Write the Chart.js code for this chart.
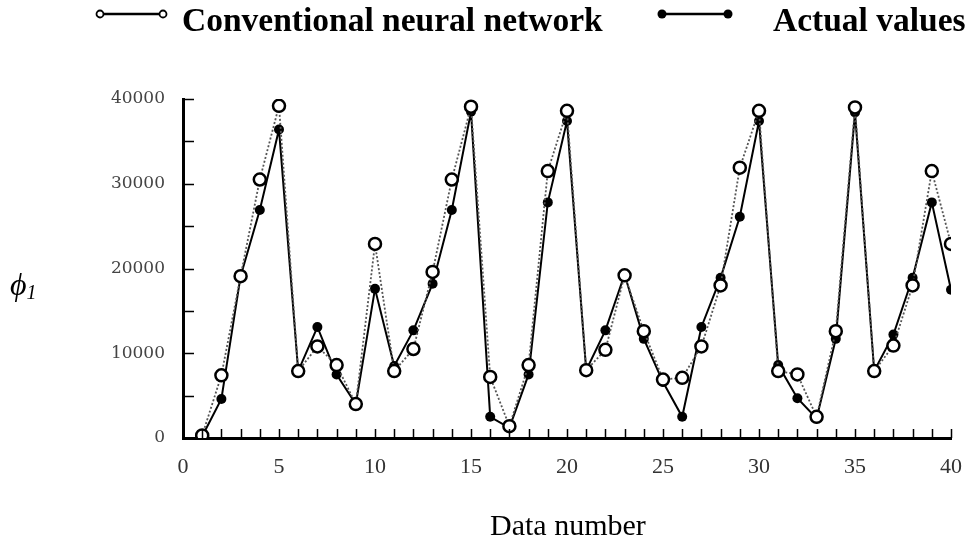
<!DOCTYPE html>
<html>
<head>
<meta charset="utf-8">
<script src="https://cdn.jsdelivr.net/npm/chart.js@4.4.1/dist/chart.umd.min.js"></script>
<style>
  html, body { margin: 0; padding: 0; background: #fff; }
  #wrap { position: relative; width: 967px; height: 545px; overflow: hidden; }
  #chart { position: absolute; left: 0; top: 0; }
  .legend-text {
    position: absolute; top: 3px; line-height: 34px;
    font-family: 'Liberation Serif', 'Times New Roman', serif;
    font-weight: bold; font-size: 33.5px; color: #000; white-space: nowrap;
  }
  .legend-icon { position: absolute; top: 6px; }
  #ytitle {
    position: absolute; left: 10px; top: 266px;
    font-family: 'Liberation Serif', serif; font-style: italic; font-size: 32px;
  }
  #ytitle sub { font-size: 20px; vertical-align: -4px; }
  #xtitle {
    position: absolute; left: 490px; top: 510px; line-height: 30px;
    font-family: 'Liberation Serif', serif; font-size: 30px; white-space: nowrap;
  }
</style>
</head>
<body>
<div id="wrap">
  <canvas id="chart" width="967" height="545"></canvas>

  <svg class="legend-icon" style="left:94px" width="76" height="16">
    <line x1="6" y1="8" x2="69" y2="8" stroke="#000" stroke-width="2.5"/>
    <circle cx="6" cy="8" r="3.5" fill="#fff" stroke="#000" stroke-width="1.8"/>
    <circle cx="69" cy="8" r="3.5" fill="#fff" stroke="#000" stroke-width="1.8"/>
  </svg>
  <div class="legend-text" style="left:182px">Conventional neural network</div>

  <svg class="legend-icon" style="left:654px" width="84" height="16">
    <line x1="8" y1="8" x2="74" y2="8" stroke="#000" stroke-width="2.5"/>
    <circle cx="8" cy="8" r="4.5" fill="#000"/>
    <circle cx="74" cy="8" r="4.5" fill="#000"/>
  </svg>
  <div class="legend-text" style="left:773px">Actual values</div>

  <div id="ytitle">&#x3D5;<sub>1</sub></div>
  <div id="xtitle">Data number</div>
</div>

<script>
const dataNumbers = [1, 2, 3, 4, 5, 6, 7, 8, 9, 10, 11, 12, 13, 14, 15, 16, 17, 18, 19, 20,
  21, 22, 23, 24, 25, 26, 27, 28, 29, 30, 31, 32, 33, 34, 35, 36, 37, 38, 39, 40]

const neuralNetwork = [300, 7400, 19100, 30500, 39200, 7900, 10800, 8600, 4000, 22900,
  7900, 10500, 19600, 30500, 39100, 7200, 1400, 8600, 31500, 38600,
  8000, 10400, 19200, 12600, 6900, 7100, 10800, 18000, 31900, 38600,
  7900, 7500, 2500, 12600, 39000, 7900, 10900, 18000, 31500, 22900]

const actualValues = [200, 4600, 19100, 26900, 36400, 7900, 13100, 7500, 4000, 17600,
  8500, 12700, 18200, 26900, 38500, 2500, 1200, 7500, 27800, 37400,
  8000, 12700, 19300, 11700, 6600, 2500, 13100, 18900, 26100, 37400,
  8600, 4700, 2300, 11700, 38400, 7900, 12200, 18900, 27800, 17500]

const xLabelEvery = 5
const yLabelEvery = 10000

const toPoints = values => values.map((v, i) => ({ x: dataNumbers[i], y: v }))

// tick marks drawn inward from the axes, like the original figure
const innerTicks = {
  id: 'innerTicks',
  afterDatasetsDraw (chart) {
    const { ctx, chartArea, scales } = chart
    ctx.save()
    ctx.strokeStyle = '#000'
    ctx.lineWidth = 1.5
    ctx.beginPath()
    scales.x.ticks.forEach(t => {
      if (t.value === 0) return
      const px = Math.round(scales.x.getPixelForValue(t.value)) + 0.5
      ctx.moveTo(px, chartArea.bottom)
      ctx.lineTo(px, chartArea.bottom - 9)
    })
    scales.y.ticks.forEach(t => {
      if (t.value === 0) return
      const py = Math.round(scales.y.getPixelForValue(t.value)) + 0.5
      ctx.moveTo(chartArea.left, py)
      ctx.lineTo(chartArea.left + 11, py)
    })
    ctx.stroke()
    ctx.restore()
  }
}

const chart = new Chart(document.getElementById('chart'), {
  type: 'line',
  data: {
    datasets: [
      {
        label: 'Conventional neural network',
        data: toPoints(neuralNetwork),
        borderColor: '#555',
        borderWidth: 1.8,
        borderDash: [2, 2],
        pointRadius: 6,
        pointBorderWidth: 2.5,
        pointBorderColor: '#000',
        pointBackgroundColor: '#fff',
        tension: 0
      },
      {
        label: 'Actual values',
        data: toPoints(actualValues),
        borderColor: '#000',
        borderWidth: 2,
        pointRadius: 5,
        pointBorderWidth: 0,
        pointBackgroundColor: '#000',
        tension: 0
      }
    ]
  },
  options: {
    responsive: false,
    animation: false,
    devicePixelRatio: 1,
    layout: { padding: { left: 0, top: 99, right: 16, bottom: 0 } },
    plugins: {
      legend: { display: false },
      tooltip: { enabled: false }
    },
    scales: {
      x: {
        type: 'linear',
        min: 0,
        max: 40,
        grid: { display: false, drawTicks: false },
        border: { display: true, color: '#000', width: 3 },
        ticks: {
          stepSize: 1,
          autoSkip: false,
          maxRotation: 0,
          padding: 16,
          color: '#333',
          font: { family: "'Liberation Serif', serif", size: 22 },
          callback: v => (v % xLabelEvery === 0 ? v : '')
        },
        afterFit (scale) {
          scale.height = 107
          scale.paddingLeft = 0
          scale.paddingRight = 0
        }
      },
      y: {
        min: 0,
        max: 40000,
        grid: { display: false, drawTicks: false },
        border: { display: true, color: '#000', width: 3 },
        ticks: {
          stepSize: 5000,
          autoSkip: false,
          padding: 18,
          color: '#444',
          font: { family: "'DejaVu Serif', serif", size: 17 },
          callback: v => (v % yLabelEvery === 0 ? v : '')
        },
        afterFit (scale) {
          scale.width = 183
          scale.paddingTop = 0
          scale.paddingBottom = 0
        }
      }
    }
  },
  plugins: [innerTicks]
})
</script>
</body>
</html>
